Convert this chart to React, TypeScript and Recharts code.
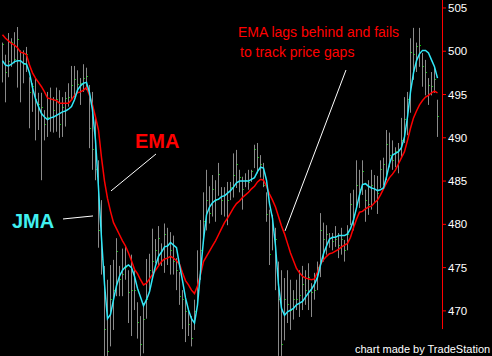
import React from 'react';
import { ComposedChart, XAxis, YAxis, Bar, Line, ReferenceLine, ReferenceDot } from 'recharts';

const HIGH = [
  501.0, 499.6, 502.1, 501.5, 502.2, 502.8, 500.1, 500.1, 500.5, 497.0,
  496.3, 496.9, 495.2, 495.2, 493.2, 495.3, 495.8, 494.7, 495.8, 495.5,
  494.7, 495.3, 496.3, 498.3, 498.3, 497.8, 496.9, 498.5, 498.1, 496.1,
  495.3, 492.3, 487.4, 482.8, 475.2, 473.6, 475.3, 475.9, 478.4, 475.2,
  477.2, 477.5, 474.7, 476.5, 474.7, 471.0, 469.4, 470.9, 476.0, 476.6,
  479.5, 478.3, 479.8, 477.8, 480.1, 479.6, 479.1, 478.7, 476.1, 474.5,
  472.4, 471.3, 470.1, 469.4, 471.3, 477.0, 480.5, 483.7, 486.3, 484.4,
  485.7, 485.1, 487.1, 484.3, 484.3, 484.9, 484.9, 488.2, 488.6, 486.3,
  485.5, 485.9, 486.3, 486.3, 489.2, 489.4, 488.0, 487.1, 483.7, 481.7,
  481.1, 479.6, 475.7, 474.7, 473.8, 474.7, 473.6, 472.4, 473.6, 474.7,
  475.2, 474.7, 475.5, 473.2, 474.4, 475.7, 481.3, 480.2, 479.9, 479.0,
  479.0, 479.8, 479.0, 479.6, 478.2, 479.9, 483.6, 484.0, 487.4, 486.3,
  487.4, 484.0, 485.1, 486.3, 485.7, 485.6, 487.4, 487.7, 490.9, 490.6,
  489.7, 488.9, 489.4, 492.3, 494.7, 495.3, 501.5, 502.7, 501.0, 502.7,
  499.8, 499.0, 496.9, 497.6, 498.2, 494.4,
];

const LOW = [
  496.4, 494.1, 497.0, 498.2, 498.6, 495.8, 494.1, 496.3, 497.6, 491.1,
  493.0, 489.7, 490.9, 485.1, 489.7, 490.1, 490.7, 490.6, 490.7, 490.0,
  490.1, 491.3, 493.6, 494.4, 494.7, 495.2, 493.8, 495.3, 495.5, 488.8,
  486.3, 485.1, 477.3, 474.2, 464.8, 464.8, 465.9, 467.8, 471.7, 471.7,
  471.7, 473.6, 468.6, 467.1, 470.1, 466.8, 464.8, 465.1, 469.1, 472.4,
  474.0, 475.5, 475.2, 475.2, 474.4, 475.3, 474.2, 474.2, 472.4, 470.7,
  467.9, 466.4, 467.1, 465.9, 467.8, 470.6, 473.6, 477.8, 479.3, 480.1,
  480.9, 480.3, 483.3, 481.1, 480.9, 479.9, 482.8, 483.1, 484.2, 483.7,
  481.7, 484.3, 484.0, 484.9, 486.5, 485.9, 485.4, 484.3, 480.3, 475.3,
  477.0, 472.4, 464.8, 464.8, 466.6, 468.6, 467.8, 469.0, 470.1, 469.3,
  470.1, 470.7, 470.1, 469.3, 471.3, 472.4, 473.9, 475.7, 476.5, 477.3,
  477.0, 477.4, 476.1, 476.5, 475.7, 477.0, 479.9, 479.3, 482.0, 481.9,
  483.4, 480.3, 481.1, 481.7, 482.6, 481.2, 484.2, 484.5, 485.1, 486.6,
  486.3, 486.6, 485.9, 487.8, 489.4, 490.3, 492.9, 496.7, 497.6, 498.2,
  495.9, 494.9, 493.8, 494.9, 495.2, 490.1,
];

const CLOSE = [
  500.8, 497.6, 498.8, 501.0, 499.1, 501.3, 499.9, 498.5, 499.6, 495.2,
  495.9, 494.4, 493.8, 493.5, 491.5, 492.3, 492.4, 493.2, 494.4, 491.5,
  493.5, 494.5, 494.6, 496.0, 496.7, 496.1, 496.3, 496.9, 497.1, 491.1,
  488.6, 486.3, 479.3, 475.9, 467.8, 465.3, 471.3, 472.4, 476.9, 473.6,
  474.2, 475.0, 472.1, 472.4, 472.4, 468.7, 466.1, 469.0, 471.3, 474.7,
  475.7, 477.0, 478.4, 477.0, 478.8, 477.6, 477.0, 475.7, 474.7, 471.7,
  471.3, 469.9, 468.4, 466.8, 469.9, 472.4, 477.0, 480.3, 482.8, 481.2,
  484.0, 482.8, 485.8, 482.8, 483.4, 482.8, 484.3, 485.7, 486.9, 485.4,
  484.0, 485.1, 484.8, 486.1, 488.6, 487.7, 486.9, 484.5, 481.1, 476.5,
  479.3, 478.2, 471.3, 466.1, 471.3, 470.7, 470.1, 471.3, 471.3, 471.8,
  473.0, 472.4, 473.9, 472.1, 472.4, 475.0, 479.3, 478.2, 478.8, 478.4,
  478.0, 478.2, 477.5, 478.2, 477.0, 478.8, 482.3, 481.1, 484.5, 484.0,
  486.1, 482.8, 482.3, 484.5, 484.0, 483.6, 486.3, 486.9, 489.2, 488.0,
  487.4, 488.4, 488.6, 489.7, 492.1, 494.4, 499.8, 499.6, 500.5, 500.7,
  498.2, 497.6, 496.0, 495.9, 496.7, 492.5,
];

const JMA = [
  498.9, 498.4, 498.3, 498.5, 498.8, 498.9, 498.9, 498.6, 498.5, 497.5,
  495.8, 494.5, 493.6, 492.8, 492.4, 492.1, 492.3, 492.4, 492.6, 492.8,
  493.0, 493.1, 493.3, 493.6, 494.4, 495.5, 496.0, 496.3, 496.4, 495.2,
  493.2, 489.7, 484.2, 478.4, 473.1, 469.1, 469.6, 471.3, 472.9, 474.0,
  474.7, 475.1, 475.3, 475.0, 474.0, 472.6, 471.6, 470.6, 471.3, 472.2,
  473.8, 475.2, 476.3, 476.8, 477.4, 477.5, 477.9, 477.6, 477.3, 475.3,
  473.5, 471.5, 470.1, 469.1, 468.6, 470.7, 474.5, 478.2, 481.1, 482.0,
  482.5, 482.8, 482.9, 483.2, 483.3, 483.6, 483.9, 484.3, 484.8, 485.0,
  485.0, 485.0, 485.0, 485.2, 485.4, 486.1, 486.6, 486.5, 485.1, 482.4,
  480.7, 477.5, 473.0, 470.3, 469.5, 469.9, 470.1, 470.3, 470.7, 470.9,
  471.1, 471.6, 472.1, 472.5, 473.1, 473.9, 475.3, 476.6, 477.5, 478.3,
  478.5, 478.5, 478.7, 478.7, 478.7, 478.9, 479.5, 480.5, 481.9, 483.4,
  484.6, 484.7, 484.4, 484.2, 484.1, 483.9, 484.0, 484.2, 485.5, 487.0,
  488.0, 488.2, 488.4, 488.9, 490.1, 492.4, 495.3, 497.5, 498.9, 499.7,
  500.1, 500.1, 499.8, 499.0, 498.2, 496.9,
];

const EMA = [
  501.9, 501.5, 501.2, 500.9, 500.7, 500.4, 499.9, 499.8, 499.6, 498.4,
  497.5, 496.9, 496.4, 495.9, 495.3, 494.6, 494.5, 494.4, 494.3, 494.0,
  494.0, 494.0, 494.0, 494.4, 494.9, 495.2, 495.3, 495.5, 495.8, 494.9,
  493.8, 492.4, 490.9, 487.7, 485.0, 483.0, 481.5, 480.2, 479.5, 478.8,
  478.1, 477.5, 476.7, 475.8, 474.8, 474.3, 473.6, 473.0, 473.2, 473.7,
  474.2, 474.7, 475.2, 475.7, 476.0, 476.1, 476.3, 476.1, 475.8, 475.4,
  474.4, 473.5, 473.0, 472.4, 472.0, 472.9, 474.2, 475.7, 476.3, 476.9,
  477.5, 478.1, 478.8, 479.5, 480.2, 480.7, 481.3, 481.9, 482.4, 482.7,
  483.1, 483.4, 483.7, 484.1, 484.4, 484.9, 485.2, 485.1, 484.4, 483.5,
  482.8, 482.0, 480.9, 479.8, 478.9, 477.8, 476.7, 475.8, 474.9, 474.4,
  474.0, 473.8, 473.7, 473.6, 473.7, 474.5, 475.4, 475.9, 476.3, 476.6,
  476.7, 476.9, 477.1, 477.4, 477.6, 477.8, 478.5, 479.6, 480.6, 481.4,
  481.5, 481.8, 482.0, 482.1, 482.5, 482.8, 483.4, 484.1, 484.8, 485.4,
  485.8, 486.3, 487.0, 487.7, 488.4, 489.7, 491.1, 492.3, 493.1, 493.8,
  494.3, 494.7, 494.9, 495.2, 495.4, 495.2,
];

const Y_TICKS = [470, 475, 480, 485, 490, 495, 500, 505];

const X_MIN = -0.8333;
const X_MAX = 146.5;
const Y_MIN = 464.79;
const Y_MAX = 505.92;

const rows = HIGH.map((h, i) => ({
  idx: i,
  range: [LOW[i], h],
  high: h,
  low: LOW[i],
  close: CLOSE[i],
  jma: JMA[i],
  ema: EMA[i],
}));

const OhlcBar = (props: any) => {
  const { x, y, width, height, payload } = props;
  if (x == null || y == null || !payload) return null;
  const top = Math.min(y, y + height);
  const h = Math.abs(height);
  const left = Math.floor(x + width / 2);
  const span = payload.high - payload.low;
  const cy = span > 0 ? top + ((payload.high - payload.close) / span) * h : top;
  return (
    <g>
      <rect x={left} y={top} width={1} height={Math.max(h, 1)} fill="#8a8a8a" />
      <rect x={left + 1} y={Math.floor(cy)} width={1} height={1} fill="#00c800" />
    </g>
  );
};

const textShape = (label: string, style: any) => (p: any) => (
  <text x={p.cx} y={p.cy} {...style}>{label}</text>
);

const FONT = '"Liberation Sans", Arial, sans-serif';

export default function App() {
  return (
    <div style={{ position: 'absolute', left: 0, top: 0, width: 492, height: 356, background: '#000', overflow: 'hidden' }}>
      <ComposedChart width={492} height={356} data={rows} margin={{ top: 0, right: 0, bottom: 0, left: 0 }}>
        <XAxis type="number" dataKey="idx" domain={[X_MIN, X_MAX]} hide allowDataOverflow />
        <YAxis
          orientation="right"
          width={50}
          domain={[Y_MIN, Y_MAX]}
          ticks={Y_TICKS}
          allowDataOverflow
          axisLine={false}
          tickLine={{ stroke: '#ff0000' }}
          tickSize={4}
          tickMargin={2}
          tick={{ fill: '#ffffff', fontSize: 11.5, fontFamily: FONT }}
        />
        <Bar dataKey="range" barSize={1} shape={<OhlcBar />} activeBar={false} isAnimationActive={false} />
        <Line type="linear" dataKey="ema" stroke="#ff0000" strokeWidth={1.5} dot={false} activeDot={false} isAnimationActive={false} />
        <Line type="linear" dataKey="jma" stroke="#30e8f8" strokeWidth={1.5} dot={false} activeDot={false} isAnimationActive={false} />
        <ReferenceLine
          segment={[{ x: 146.67, y: 467.9 }, { x: 146.67, y: Y_MAX }]}
          stroke="#ff0000"
          strokeWidth={1}
          ifOverflow="visible"
        />
        <ReferenceLine segment={[{ x: 36.17, y: 483.86 }, { x: 51.17, y: 488.13 }]} stroke="#ffffff" strokeWidth={1} ifOverflow="visible" />
        <ReferenceLine segment={[{ x: 20.17, y: 480.62 }, { x: 30.17, y: 480.97 }]} stroke="#ffffff" strokeWidth={1} ifOverflow="visible" />
        <ReferenceLine segment={[{ x: 114.5, y: 497.83 }, { x: 94.17, y: 479.24 }]} stroke="#ffffff" strokeWidth={1} ifOverflow="visible" />
        <ReferenceDot x={44.17} y={488.8} r={0} ifOverflow="visible"
          shape={textShape('EMA', { fill: '#ff0000', fontSize: 20, fontWeight: 'bold', fontFamily: FONT })} />
        <ReferenceDot x={3.17} y={479.6} r={0} ifOverflow="visible"
          shape={textShape('JMA', { fill: '#40f0f0', fontSize: 20, fontWeight: 'bold', fontFamily: FONT })} />
        <ReferenceDot x={78.5} y={501.65} r={0} ifOverflow="visible"
          shape={textShape('EMA lags behind and fails', { fill: '#ff0000', fontSize: 14, fontFamily: FONT })} />
        <ReferenceDot x={79.17} y={499.3} r={0} ifOverflow="visible"
          shape={textShape('to track price gaps', { fill: '#ff0000', fontSize: 14, fontFamily: FONT })} />
        <ReferenceDot x={117.5} y={465.1} r={0} ifOverflow="visible"
          shape={textShape('chart made by TradeStation', { fill: '#ffffff', fontSize: 11, fontFamily: FONT })} />
      </ComposedChart>
    </div>
  );
}
